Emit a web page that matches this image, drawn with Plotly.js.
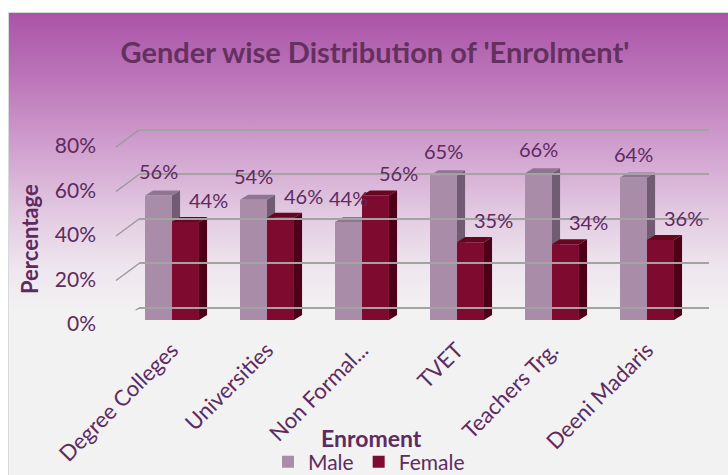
<!DOCTYPE html>
<html>
<head>
<meta charset="utf-8">
<script src="https://cdn.plot.ly/plotly-3.0.1.min.js"></script>
<style>
html,body{margin:0;padding:0;background:#ffffff;width:728px;height:475px;overflow:hidden;}
#frame{position:absolute;left:8px;top:12px;width:720px;height:463px;overflow:hidden;
background:linear-gradient(to bottom,#ab53a8 0px,#bd78ba 70px,#cf9dcd 130px,#e2c9e1 200px,#eee6ee 255px,#f2f2f2 300px,#f2f2f2 463px);
border-left:1px solid #d6dada;border-top:1px solid #d6dada;box-sizing:border-box;}
#chart{position:absolute;left:0;top:0;width:720px;height:500px;}
</style>
</head>
<body>
<div id="frame"><div id="chart"></div></div>
<script>
// ---- data ----
const categories = ["Degree Colleges", "Universities", "Non Formal...", "TVET", "Teachers Trg.", "Deeni Madaris"];
const maleValues = [56, 54, 44, 65, 66, 64];
const femaleValues = [44, 46, 56, 35, 34, 36];
const seriesNames = ["Male", "Female"];
const yTickVals = [0, 20, 40, 60, 80];
const yTickText = ["0%", "20%", "40%", "60%", "80%"];

// ---- styles ----
const TXT = "#5e2a5f";
const FONT = "Lato, 'Open Sans', sans-serif";
const maleFront = "#a88ca8", maleSide = "#725c74", maleTop = "#8e7591";
const femFront = "#7f0a30", femSide = "#4f0019", femTop = "#66061f";
const W = 720, H = 500;   // plot canvas (frame clips to 463 px tall)
const barW = 0.284;       // bar width in category units
const depthX = 0.085;     // 3D depth, category units
const depthY = 2.25;      // 3D depth, value units
const py = v => 1 - v / H; // div pixel row -> paper fraction

const idx = categories.map((_, i) => i);

const traces = [
  {type: "bar", name: seriesNames[0], x: idx, y: maleValues, marker: {color: maleFront, line: {width: 0}}, hoverinfo: "skip"},
  {type: "bar", name: seriesNames[1], x: idx, y: femaleValues, marker: {color: femFront, line: {width: 0}}, hoverinfo: "skip"},
  {type: "scatter", x: [0.5], y: [40], xaxis: "x2", yaxis: "y2", mode: "markers", marker: {opacity: 0}, showlegend: false, hoverinfo: "skip"}
];

const shapes = [];
function faces(values, offsetLeft, sideCol, topCol) {
  values.forEach((v, i) => {
    const xl = i + offsetLeft, xr = xl + barW;
    shapes.push({type: "path", xref: "x", yref: "y", layer: "between", line: {width: 0}, fillcolor: sideCol,
      path: `M${xr},0 L${xr},${v} L${xr + depthX},${v + depthY} L${xr + depthX},${depthY} Z`});
    shapes.push({type: "path", xref: "x", yref: "y", layer: "between", line: {width: 0}, fillcolor: topCol,
      path: `M${xl},${v} L${xr},${v} L${xr + depthX},${v + depthY} L${xl + depthX},${v + depthY} Z`});
  });
}
faces(maleValues, -barW, maleSide, maleTop);
faces(femaleValues, 0, femSide, femTop);

// slanted side-wall tick lines
const x2dom = [130 / W, 700 / W];
yTickVals.forEach(v => {
  shapes.push({type: "line", xref: "paper", yref: "y2", xsizemode: "pixel", ysizemode: "pixel",
    xanchor: x2dom[0], yanchor: v, x0: -23, x1: 0, y0: -17, y1: 0,
    line: {color: "#9a9a9a", width: 1.5}, layer: "below"});
});

const annotations = [];
maleValues.forEach((v, i) => annotations.push({xref: "x", yref: "y", x: i - barW / 2, y: v, yshift: 24,
  xanchor: "center", yanchor: "middle",
  text: v + "%", showarrow: false, font: {family: FONT, size: 20, color: TXT}}));
femaleValues.forEach((v, i) => annotations.push({xref: "x", yref: "y", x: i + barW / 2, y: v, yshift: 22, xshift: 23,
  xanchor: "center", yanchor: "middle",
  text: v + "%", showarrow: false, font: {family: FONT, size: 20, color: TXT}}));
annotations.push({xref: "paper", yref: "paper", x: 362 / W, y: py(425), xanchor: "center", yanchor: "middle",
  text: "<b>Enroment</b>", showarrow: false, font: {family: FONT, size: 23, color: TXT}});
annotations.push({xref: "paper", yref: "paper", x: 21 / W, y: py(226), xanchor: "center", yanchor: "middle",
  text: "<b>Percentage</b>", textangle: -90, showarrow: false, font: {family: FONT, size: 22, color: TXT}});

const layout = {
  width: W, height: H,
  margin: {l: 0, r: 0, t: 0, b: 0},
  paper_bgcolor: "rgba(0,0,0,0)", plot_bgcolor: "rgba(0,0,0,0)",
  title: {text: "<b>Gender wise Distribution of 'Enrolment'</b>", x: 366 / W, xanchor: "center", y: py(40), yanchor: "middle",
    font: {family: FONT, size: 29, color: "#63305f"}},
  barmode: "group", bargap: 0.432, bargroupgap: 0,
  showlegend: true,
  legend: {orientation: "h", x: 360 / W, xanchor: "center", y: py(449), yanchor: "middle",
    font: {family: FONT, size: 21, color: TXT}, bgcolor: "rgba(0,0,0,0)", itemwidth: 30, traceorder: "normal"},
  xaxis: {domain: [115.5 / W, 685.5 / W], range: [-0.5, 5.5], anchor: "y", tickmode: "array", tickvals: idx, ticktext: categories,
    tickangle: -45, showgrid: false, zeroline: false, showline: false, ticks: "", ticklabelstandoff: 12,
    tickfont: {family: FONT, size: 22, color: TXT}, automargin: false, fixedrange: true},
  yaxis: {domain: [py(307), py(129)], range: [0, 80], anchor: "x", showgrid: false, zeroline: false,
    showticklabels: false, ticks: "", automargin: false, fixedrange: true},
  xaxis2: {domain: x2dom, range: [0, 1], anchor: "y2", visible: false, fixedrange: true},
  yaxis2: {domain: [py(295 + 2.225), py(117 - 2.225)], range: [-1, 81], anchor: "x2", showgrid: true, gridcolor: "#a3a3a3", gridwidth: 2,
    zeroline: false, tickmode: "array", tickvals: yTickVals, ticktext: yTickText, ticks: "",
    ticklabelshift: 16, ticklabelstandoff: 42, tickfont: {family: FONT, size: 21, color: TXT}, automargin: false, fixedrange: true},
  shapes: shapes,
  annotations: annotations
};

Plotly.newPlot("chart", traces, layout, {displayModeBar: false, staticPlot: true});
</script>
</body>
</html>
